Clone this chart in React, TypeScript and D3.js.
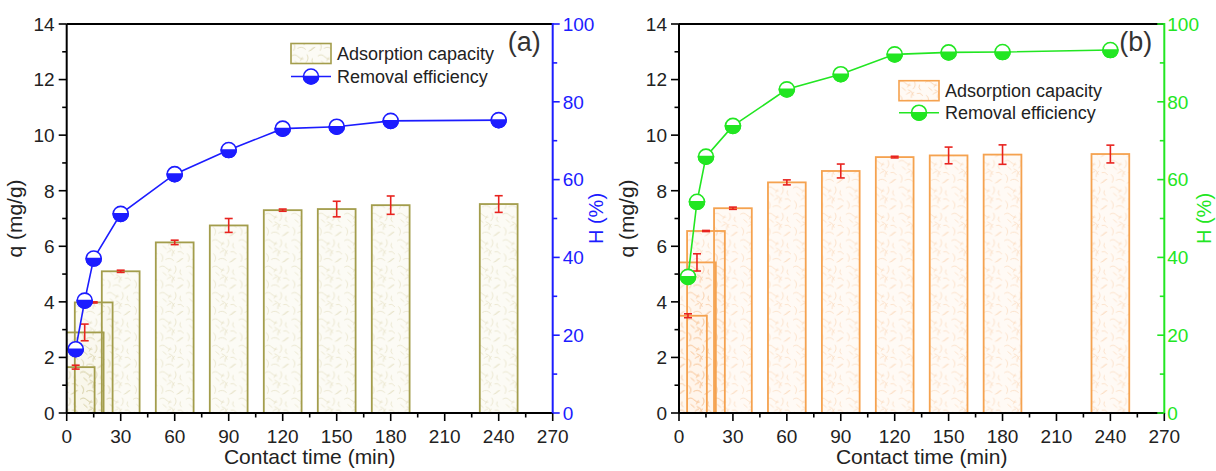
import React from 'react';
import * as d3 from 'd3';

// contact time (min)
const times = [5, 10, 15, 30, 60, 90, 120, 150, 180, 240];

// panel (a)
const qA = [1.65, 2.9, 3.98, 5.1, 6.14, 6.75, 7.3, 7.34, 7.48, 7.52];
const qAErr = [0.07, 0.3, 0.02, 0.04, 0.08, 0.25, 0.04, 0.28, 0.33, 0.3];
const hA = [16.4, 28.9, 39.7, 51.2, 61.4, 67.6, 73.1, 73.6, 75.1, 75.3];

// panel (b)
const qB = [3.5, 5.42, 6.55, 7.37, 8.3, 8.71, 9.21, 9.27, 9.3, 9.32];
const qBErr = [0.07, 0.31, 0.02, 0.04, 0.09, 0.25, 0.03, 0.3, 0.35, 0.32];
const hB = [35.0, 54.3, 65.9, 73.8, 83.2, 87.1, 92.2, 92.7, 92.8, 93.3];

const xTicks = [0, 30, 60, 90, 120, 150, 180, 210, 240, 270];
const qTicks = [0, 2, 4, 6, 8, 10, 12, 14];
const hTicks = [0, 20, 40, 60, 80, 100];

const legendLabels = ['Adsorption capacity', 'Removal efficiency'];

const FONT = "'Liberation Sans', Arial, Helvetica, sans-serif";
const BAR_W = 21; // in minutes
const TOP = 24;
const BOTTOM = 413;

// fibre texture tile for the bars (drawn at half scale)
const fibres = [
  'M2 6 q6 -5 12 1 t10 4',
  'M30 3 q5 8 -2 15',
  'M19 19 q8 2 10 11',
  'M4 29 q7 6 2 15',
  'M35 26 q6 -3 11 4',
  'M13 40 q8 -5 15 2',
  'M44 38 q-4 5 -11 7',
  'M8 15 l7 6',
  'M25 34 q-2 -7 5 -11',
  'M40 10 q-3 6 2 10',
  'M16 28 q2 -4 7 -4',
  'M36 44 q3 -6 9 -6',
  'M22 8 l-4 7',
];

function Marker({ cx, cy, color, r = 7.5 }: { cx: number; cy: number; color: string; r?: number }) {
  return (
    <g transform={`translate(${cx},${cy})`}>
      <circle r={r} fill="#fff" stroke={color} strokeWidth={1.6} />
      <path d={`M${-r} 0 A${r} ${r} 0 0 0 ${r} 0 Z`} fill={color} stroke={color} strokeWidth={1.6} />
    </g>
  );
}

type PanelProps = {
  id: string;
  left: number;
  right: number;
  q: number[];
  qErr: number[];
  h: number[];
  barStroke: string;
  fibre: string;
  fibreBg: string;
  lineColor: string;
  tag: string;
  legendX: number;
  legendY: number;
  legendGap: number;
  rightTickDir: number;
  rightLabelGap: number;
  rightTitleGap: number;
};

function Panel(p: PanelProps) {
  const x = d3.scaleLinear().domain([0, 270]).range([p.left, p.right]);
  const yq = d3.scaleLinear().domain([0, 14]).range([BOTTOM, TOP]);
  const yh = d3.scaleLinear().domain([0, 100]).range([BOTTOM, TOP]);
  const bw = x(BAR_W) - x(0);
  const line = d3
    .line<number>()
    .x((_, i) => x(times[i]))
    .y((d) => yh(d));

  const xMinor = xTicks.slice(0, -1).map((t) => t + 15);
  const qMinor = qTicks.slice(0, -1).map((t) => t + 1);
  const hMinor = hTicks.slice(0, -1).map((t) => t + 10);
  const midX = (p.left + p.right) / 2;
  const midY = (TOP + BOTTOM) / 2;
  const patId = `fib-${p.id}`;
  const clipId = `clip-${p.id}`;

  const barRect = (t: number, i: number) => ({
    x: x(t) - bw / 2,
    y: yq(p.q[i]),
    width: bw,
    height: BOTTOM - yq(p.q[i]),
  });

  return (
    <g>
      <defs>
        <pattern
          id={patId}
          width={48}
          height={48}
          patternUnits="userSpaceOnUse"
          patternTransform="scale(0.55)"
        >
          {fibres.map((d, i) => (
            <path key={i} d={d} fill="none" stroke={p.fibre} strokeWidth={1.2} />
          ))}
        </pattern>
        <clipPath id={clipId}>
          <rect x={p.left} y={TOP} width={p.right - p.left} height={BOTTOM - TOP} />
        </clipPath>
      </defs>

      {/* bars: fills first, outlines on top so overlapping bars stay visible */}
      <g clipPath={`url(#${clipId})`}>
        {times.map((t, i) => (
          <rect key={`bg${t}`} {...barRect(t, i)} fill={p.fibreBg} fillOpacity={0.4} />
        ))}
        {times.map((t, i) => (
          <rect key={`pt${t}`} {...barRect(t, i)} fill={`url(#${patId})`} opacity={0.7} />
        ))}
        {times.map((t, i) => (
          <rect key={`ol${t}`} {...barRect(t, i)} fill="none" stroke={p.barStroke} strokeWidth={1.8} />
        ))}
      </g>

      {/* error bars */}
      <g stroke="#e8231f" strokeWidth={1.6} fill="none">
        {times.map((t, i) => {
          const cx = x(t);
          const y1 = yq(p.q[i] + p.qErr[i]);
          const y2 = yq(p.q[i] - p.qErr[i]);
          return (
            <g key={t}>
              <line x1={cx} x2={cx} y1={y1} y2={y2} />
              <line x1={cx - 4} x2={cx + 4} y1={y1} y2={y1} />
              <line x1={cx - 4} x2={cx + 4} y1={y2} y2={y2} />
            </g>
          );
        })}
      </g>

      {/* removal efficiency */}
      <path d={line(p.h) || ''} fill="none" stroke={p.lineColor} strokeWidth={1.6} />
      {times.map((t, i) => (
        <Marker key={t} cx={x(t)} cy={yh(p.h[i])} color={p.lineColor} />
      ))}

      {/* frame */}
      <line x1={p.left} x2={p.right} y1={TOP} y2={TOP} stroke="#000" strokeWidth={2} />
      <line x1={p.left} x2={p.right} y1={BOTTOM} y2={BOTTOM} stroke="#000" strokeWidth={2} />
      <line x1={p.left} x2={p.left} y1={TOP} y2={BOTTOM} stroke="#000" strokeWidth={2} />
      <line x1={p.right} x2={p.right} y1={TOP - 1} y2={BOTTOM + 1} stroke={p.lineColor} strokeWidth={2} />

      {/* bottom axis */}
      <g stroke="#000" strokeWidth={1.6}>
        {xTicks.map((t) => (
          <line key={t} x1={x(t)} x2={x(t)} y1={BOTTOM} y2={BOTTOM + 8} />
        ))}
        {xMinor.map((t) => (
          <line key={t} x1={x(t)} x2={x(t)} y1={BOTTOM} y2={BOTTOM + 4.5} />
        ))}
      </g>
      <g fontFamily={FONT} fontSize={19} fill="#222" textAnchor="middle">
        {xTicks.map((t) => (
          <text key={t} x={x(t)} y={443}>
            {t}
          </text>
        ))}
      </g>
      <text x={midX} y={464} fontFamily={FONT} fontSize={21} fill="#222" textAnchor="middle">
        Contact time (min)
      </text>

      {/* left axis */}
      <g stroke="#000" strokeWidth={1.6}>
        {qTicks.map((t) => (
          <line key={t} x1={p.left - 8} x2={p.left} y1={yq(t)} y2={yq(t)} />
        ))}
        {qMinor.map((t) => (
          <line key={t} x1={p.left - 4.5} x2={p.left} y1={yq(t)} y2={yq(t)} />
        ))}
      </g>
      <g fontFamily={FONT} fontSize={19} fill="#222" textAnchor="end">
        {qTicks.map((t) => (
          <text key={t} x={p.left - 12} y={yq(t)} dy="0.36em">
            {t}
          </text>
        ))}
      </g>
      <text
        transform={`translate(${p.left - 45},${midY}) rotate(-90)`}
        fontFamily={FONT}
        fontSize={21}
        fill="#222"
        textAnchor="middle"
      >
        q (mg/g)
      </text>

      {/* right axis */}
      <g stroke={p.lineColor} strokeWidth={1.6}>
        {hTicks.map((t) => (
          <line key={t} x1={p.right} x2={p.right + 7 * p.rightTickDir} y1={yh(t)} y2={yh(t)} />
        ))}
        {hMinor.map((t) => (
          <line key={t} x1={p.right} x2={p.right + 4.5 * p.rightTickDir} y1={yh(t)} y2={yh(t)} />
        ))}
      </g>
      <g fontFamily={FONT} fontSize={19} fill={p.lineColor} textAnchor="start">
        {hTicks.map((t) => (
          <text key={t} x={p.right + p.rightLabelGap} y={yh(t)} dy="0.36em">
            {t}
          </text>
        ))}
      </g>
      <text
        transform={`translate(${p.right + p.rightTitleGap},${midY}) rotate(-90)`}
        fontFamily={FONT}
        fontSize={20}
        fill={p.lineColor}
        textAnchor="middle"
      >
        H (%)
      </text>

      {/* panel tag */}
      <text x={p.right - 45} y={51} fontFamily={FONT} fontSize={27} fill="#333">
        {p.tag}
      </text>

      {/* legend */}
      <g fontFamily={FONT} fontSize={18} fill="#222">
        <rect x={p.legendX} y={p.legendY - 10} width={40} height={20} fill={p.fibreBg} fillOpacity={0.4} />
        <rect
          x={p.legendX}
          y={p.legendY - 10}
          width={40}
          height={20}
          fill={`url(#${patId})`}
          stroke={p.barStroke}
          strokeWidth={1.6}
        />
        <text x={p.legendX + 46} y={p.legendY} dy="0.36em">
          {legendLabels[0]}
        </text>
        <line
          x1={p.legendX}
          x2={p.legendX + 40}
          y1={p.legendY + p.legendGap}
          y2={p.legendY + p.legendGap}
          stroke={p.lineColor}
          strokeWidth={1.6}
        />
        <Marker cx={p.legendX + 20} cy={p.legendY + p.legendGap} color={p.lineColor} />
        <text x={p.legendX + 46} y={p.legendY + p.legendGap} dy="0.36em">
          {legendLabels[1]}
        </text>
      </g>
    </g>
  );
}

export default function App() {
  return (
    <svg
      width={1216}
      height={471}
      style={{ position: 'absolute', left: 0, top: 0, display: 'block', background: '#fff' }}
    >
      <Panel
        id="a"
        left={66.7}
        right={552.7}
        q={qA}
        qErr={qAErr}
        h={hA}
        barStroke="#a39d4c"
        fibre="#d6cfa6"
        fibreBg="#f8f6e6"
        lineColor="#1c1cff"
        tag="(a)"
        legendX={291}
        legendY={53.5}
        legendGap={23}
        rightTickDir={1}
        rightLabelGap={10}
        rightTitleGap={50}
      />
      <Panel
        id="b"
        left={679}
        right={1164.3}
        q={qB}
        qErr={qBErr}
        h={hB}
        barStroke="#f5a24f"
        fibre="#f7c79b"
        fibreBg="#fff3e6"
        lineColor="#22e622"
        tag="(b)"
        legendX={899}
        legendY={90.7}
        legendGap={22}
        rightTickDir={-1}
        rightLabelGap={3}
        rightTitleGap={47}
      />
    </svg>
  );
}
